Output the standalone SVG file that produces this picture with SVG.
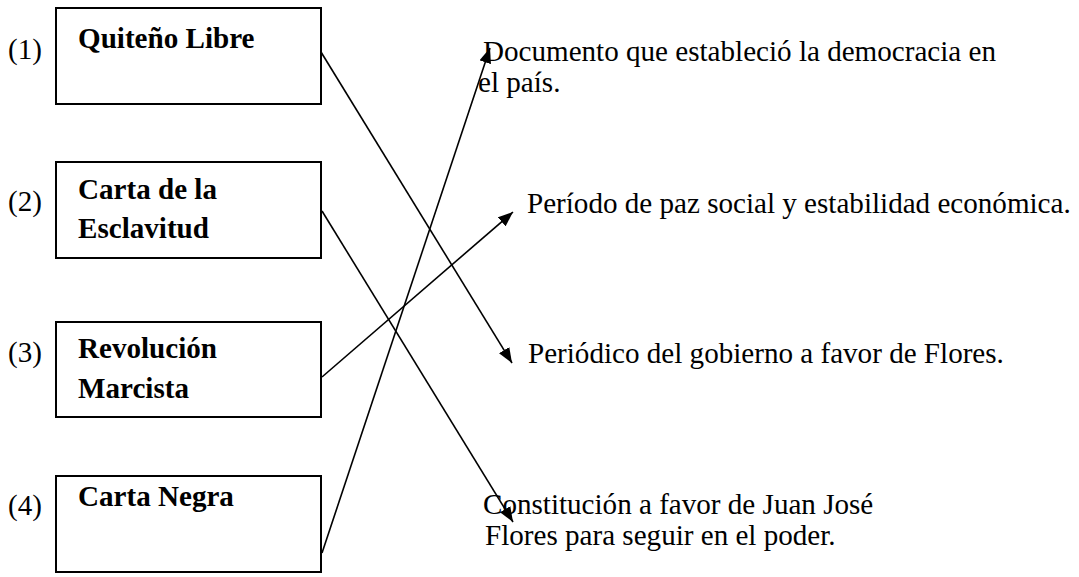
<svg xmlns="http://www.w3.org/2000/svg" width="1079" height="577" viewBox="0 0 1079 577">
<defs>
<style>
text{font-family:"Liberation Serif","Times New Roman",serif;font-size:29.1px;fill:#000}
.b{font-weight:bold}
.box{fill:#fff;stroke:#000;stroke-width:2}
.conn line{stroke:#000;stroke-width:1.6;marker-end:url(#ah)}
</style>
<marker id="ah" markerUnits="userSpaceOnUse" markerWidth="16" markerHeight="12" refX="15" refY="6" orient="auto">
<path d="M0,0 L15,6 L0,12 z" fill="#000"/>
</marker>
</defs>
<rect width="1079" height="577" fill="#fff"/>
<g id="n1">
<text x="8" y="59">(1)</text>
<rect class="box" x="56" y="8" width="265" height="96"/>
<text class="b" x="78" y="48">Quiteño Libre</text>
</g>
<g id="n2">
<text x="8" y="211">(2)</text>
<rect class="box" x="56" y="162" width="265" height="96"/>
<text class="b" x="78" y="199">Carta de la</text>
<text class="b" x="78" y="238">Esclavitud</text>
</g>
<g id="n3">
<text x="8" y="362">(3)</text>
<rect class="box" x="56" y="322" width="265" height="95"/>
<text class="b" x="78" y="358">Revolución</text>
<text class="b" x="78" y="398">Marcista</text>
</g>
<g id="n4">
<text x="8" y="515">(4)</text>
<rect class="box" x="56" y="476" width="265" height="96"/>
<text class="b" x="78" y="506">Carta Negra</text>
</g>
<g id="t1">
<text x="483" y="61">Documento que estableció la democracia en</text>
<text x="478" y="92">el país.</text>
</g>
<g id="t2">
<text x="527" y="213">Período de paz social y estabilidad económica.</text>
</g>
<g id="t3">
<text x="528" y="363">Periódico del gobierno a favor de Flores.</text>
</g>
<g id="t4">
<text x="483" y="514">Constitución a favor de Juan José</text>
<text x="485" y="545">Flores para seguir en el poder.</text>
</g>
<g id="connectors" class="conn">
<line x1="321" y1="52" x2="512" y2="363"/>
<line x1="322" y1="211" x2="513" y2="522"/>
<line x1="322" y1="377" x2="513" y2="212"/>
<line x1="322" y1="553" x2="490" y2="48"/>
</g>
</svg>
